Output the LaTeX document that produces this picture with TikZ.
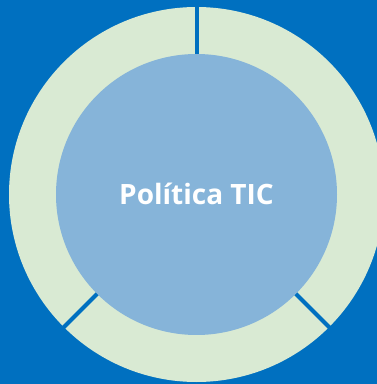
\documentclass[tikz,border=0pt]{standalone}
\usepackage{fontspec}
\setmainfont{Open Sans}
\definecolor{bgblue}{HTML}{0070C0}
\definecolor{ringgreen}{HTML}{D9EAD3}
\definecolor{coreblue}{HTML}{86B4D9}
\begin{document}
\begin{tikzpicture}[x=1pt, y=1pt]
        % background
        \fill[bgblue] (0,0) rectangle (377,384);
        \clip (0,0) rectangle (377,384);

        % centre of the ring
        \coordinate (C) at (196.5,189.5);

        % outer ring
        \fill[ringgreen] (C) circle (187.5);

        % dividers between the ring segments
        \foreach \a in {90,225,315}
            \draw[bgblue, line width=4pt] (C) -- ++(\a:200);

        % inner circle and title
        \fill[coreblue] (C) circle (140.5);
        \node[text=white, font=\bfseries\fontsize{28}{34}\selectfont] (title) at ([yshift=1pt]C) {Política TIC};
    \end{tikzpicture}
\end{document}
